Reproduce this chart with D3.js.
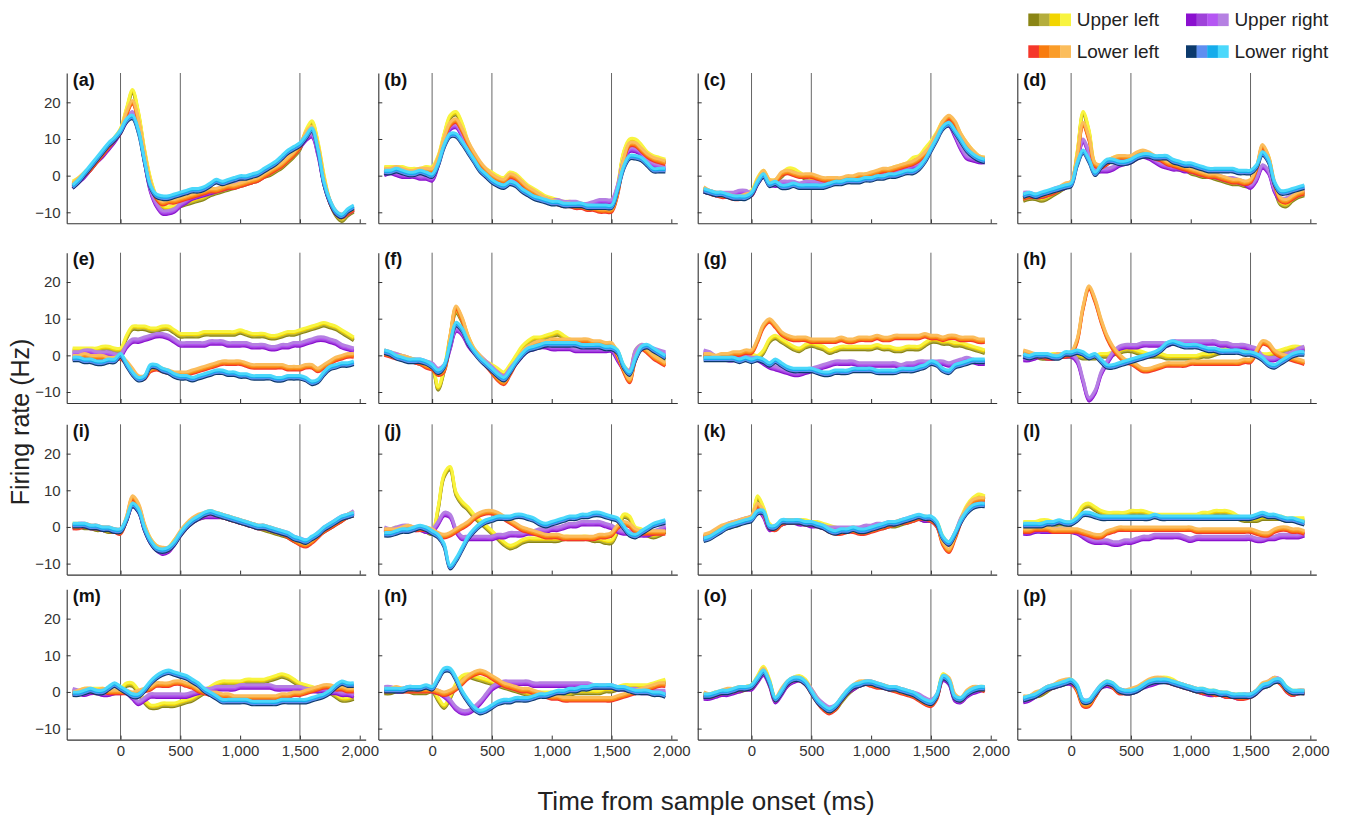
<!DOCTYPE html>
<html>
<head>
<meta charset="utf-8">
<script src="https://cdn.jsdelivr.net/npm/d3@7"></script>
<style>
  body { margin: 0; background: #fff; }
  text { font-family: "Liberation Sans", Arial, Helvetica, sans-serif; }
</style>
</head>
<body>
<script>
// sample times (ms) shared by every trace
const times = [-400,-350,-300,-250,-200,-150,-100,-50,
  0,50,100,150,200,250,300,350,
  400,450,500,550,600,650,700,750,
  800,850,900,950,1000,1050,1100,1150,
  1200,1250,1300,1350,1400,1450,1500,1550,
  1600,1650,1700,1750,1800,1850,1900,1950];

const eventTimes = [0, 500, 1500];
const groupNames = ['Upper left', 'Lower left', 'Upper right', 'Lower right'];
const groupShades = [
  ['#8a8515', '#b4ad3c', '#f2d500', '#f8f43f'],
  ['#f5372a', '#f87b0e', '#fa9c28', '#fbbd5c'],
  ['#8b10cf', '#9f42da', '#b556f3', '#b580e2'],
  ['#0c3a6c', '#5f8ef0', '#15aceb', '#4bd8fb']
];
const panelLabels = ['(a)','(b)','(c)','(d)','(e)','(f)','(g)','(h)','(i)','(j)','(k)','(l)','(m)','(n)','(o)','(p)'];

// firing rate per panel: [upper left, lower left, upper right, lower right]
const panelA = [
  [-2,-1,0.5,2,4,6,8,10, 12.5,18,23,17,7,-1,-6,-8.5, -9,-8.5,-8,-7.5,-7,-6.5,-6,-5, -4.5,-4,-3.5,-3,-2.5,-2,-1.5,-1, 0,0.5,1.5,2.5,4,5.5,7.5,12, 14.5,9,0,-7,-10.5,-12,-10.5,-9.5],
  [-2.5,-1,0.5,2,4,6,8,10, 12,17,20,15,6,-2,-6,-7.5, -7,-7,-6.5,-6,-5.5,-5,-4.5,-4, -4,-3.5,-3,-3,-2.5,-2,-1.5,-1, 0,1,2,3,4.5,6,8,11.5, 13,8,-1,-7,-10,-11,-10,-9],
  [-3,-1.5,0,2,4,5.5,7.5,9.5, 12,15,17,13,4,-4,-8,-10, -10,-9.5,-8,-7,-6,-5.5,-5,-4.5, -4,-3.5,-3,-2.5,-2,-1.5,-1,-0.5, 0.5,1.5,2.5,3.5,5,6.5,8,10, 11,6,-2,-7,-10,-11,-10,-9],
  [-3,-1.5,0.5,2.5,4.5,6.5,8.5,10, 12,15,16,12,4,-3,-5.5,-6, -6,-5.5,-5,-4.5,-4,-4,-3.5,-2.5, -1.5,-2,-1.5,-1,-0.5,-0.5,0,0.5, 1.5,2.5,3.5,5,6.5,7.5,8.5,10.5, 12.5,7,-2,-7,-10,-11,-9.5,-8.5]
];
const panelB = [
  [2,2,2,2,1.5,1.5,1.5,2, 2,5,11,16,17,14,9,5.5, 3,1.5,0.5,-0.5,-1,0.5,0,-1.5, -3,-4,-5,-6,-6.5,-7,-7.5,-7.5, -8,-8,-8.5,-8.5,-9,-9,-8.5,-3, 6,9.5,9.5,8,6,5,4.5,4],
  [1.5,1.5,2,1.5,1,1,1.5,1.5, 1.5,4.5,10,14,15,12.5,9,6, 3.5,1.5,0,-1,-1.5,0,-0.5,-2, -3.5,-4.5,-5.5,-6.5,-7,-7.5,-8,-8, -8.5,-8.5,-9,-9,-9.5,-9.5,-9.5,-5, 4,8.5,8.5,7,5.5,4.5,4,3.5],
  [0.5,1,0.5,0,0,0,-0.5,-0.5, -1,3,9,13,13.5,11,7.5,4.5, 2,0,-1,-2,-2.5,-1.5,-2,-3, -4,-5,-6,-6.5,-7,-7,-7.5,-7.5, -7.5,-8,-8,-7.5,-7,-7,-7,-3, 4,7,7,6,4,3,2.5,2],
  [1,1,1.5,1,0.5,0.5,1,0.5, 0,3,8,11,11,9,6.5,4, 1.5,0,-1.5,-2.5,-3,-2,-2.5,-4, -5,-6,-6.5,-7,-7.5,-7.5,-8,-8, -8,-8,-8.5,-8.5,-8.5,-8.5,-8.5,-4, 2,5,5,4.5,3,1.5,1.5,1.5]
];
const panelC = [
  [-4,-4.5,-5,-5,-5.5,-5.5,-5.5,-5, -4.5,-1,1,-1.5,-1.5,0,1.5,1.5, 0.5,-0.5,-1,-1,-1.5,-1.5,-1.5,-1.5, -1,-1,-0.5,0,0,0.5,1,1.5, 2,2.5,3,4.5,5,7,9,11.5, 14.5,15.5,14,11,8.5,6.5,5,4.5],
  [-3.5,-4.5,-5,-5.5,-5.5,-6,-6,-5.5, -5,-1.5,1,-1.5,-1.5,0.5,1,0.5, 0,0,0,-0.5,-1,-1,-1,-1, -0.5,-0.5,0,0,0.5,1,1.5,1.5, 2,2.5,3,3.5,4.5,6,8,11, 14.5,16,14.5,11,8.5,6.5,5,4.5],
  [-4,-4.5,-5,-5,-5,-5,-4.5,-4.5, -5,-2,0,-2,-2.5,-2,-2,-2, -2.5,-2,-2,-2,-2,-2,-1.5,-1.5, -1,-1,-1,-0.5,-0.5,0,0,0.5, 1,1.5,2,2.5,3,5,8,11, 13.5,14,11,7.5,5,4.5,4,4],
  [-4,-4.5,-5,-5,-5.5,-6,-6,-6, -5,-2,0,-2.5,-2,-3,-3,-2.5, -3,-3,-3,-3,-3,-2.5,-2,-2, -1.5,-1.5,-1.5,-1,-1,-0.5,-0.5,0, 0,0.5,1,1,2,4,7,10, 13,14,12,9.5,7,5.5,4.5,4]
];
const panelD = [
  [-6.5,-6,-6,-6.5,-6,-5,-4,-3, -2,6,17,12,3,2,3.5,4.5, 5,4.5,4,5,6,5.5,4.5,4, 3,2.5,2,2,1,0.5,0,0, -0.5,-1,-1.5,-2,-2,-2.5,-2.5,1, 7.5,5,-3,-7.5,-8,-6.5,-5.5,-5],
  [-6,-5.5,-5.5,-5.5,-5,-4.5,-3.5,-2.5, -2,5,14,10,3,2.5,3.5,4.5, 5,5,5,6,6.5,6,5,4.5, 3.5,3,2.5,2,1.5,1,0.5,0, 0,-0.5,-1,-1.5,-1.5,-2,-1.5,2, 8,5,-2,-6.5,-7,-6,-5,-4.5],
  [-5,-5,-5.5,-5.5,-5,-4,-3.5,-3, -2,4,9.5,6,1.5,1.5,1.5,2, 3,3.5,4,5,5.5,5,4,3, 2.5,2,2,1.5,1.5,1,0.5,0.5, 0,-0.5,-1,-1,-1.5,-2,-3,-1, 2.5,1,-4,-6.5,-6.5,-5.5,-4.5,-4],
  [-5.5,-5,-5.5,-5,-4.5,-4,-3.5,-3, -2.5,3,6.5,4,0.5,2.5,4,4, 3.5,3.5,4,5,5.5,5.5,5,5, 5,4,3.5,3,3,2.5,2,1.5, 1.5,1.5,1.5,1.5,1,1,1,2.5, 6,4,-2,-4.5,-4.5,-4,-3.5,-3]
];
const panelE = [
  [1.5,1.5,1.5,1.5,1.5,2,2,1.5, 1.5,5,7.5,7.5,7.5,7,7,7.5, 7.5,6.5,5.5,5.5,5.5,5.5,6,6, 6,6,6,6,6.5,6,5.5,5.5, 5.5,5,5,5.5,6,6,6.5,7, 7.5,8,8.5,8,7.5,6.5,5.5,4.5],
  [-0.5,-0.5,0,-0.5,-0.5,-0.5,-1,-1, -0.5,-2,-4,-6,-6,-4,-3.5,-4, -4.5,-5,-5,-5,-4.5,-4,-3.5,-3, -2.5,-2,-2,-2,-2,-2.5,-3,-3, -3,-3,-3,-3,-3.5,-3.5,-3.5,-3, -3,-4,-3,-2,-1,-0.5,0,0],
  [0.5,0.5,1,1,0.5,0.5,0.5,0, 0,2.5,4,4,4.5,5,5.5,5.5, 5,4,3,3,3,3,3,3.5, 3.5,3.5,3,3,3,3,2.5,2.5, 2.5,2,2,2.5,2.5,3,3,3.5, 4,4.5,4.5,4,3.5,2.5,2,1.5],
  [-1,-1,-1.5,-1.5,-2,-2,-1.5,-1.5, 0,-2.5,-5,-6.5,-6,-3,-3,-4, -4.5,-5.5,-6,-6,-6.5,-6,-5.5,-5, -4.5,-4.5,-5,-5,-5.5,-5.5,-6,-6, -6,-6,-6.5,-6.5,-6,-6,-6,-6.5, -7.5,-7,-5,-3.5,-3,-2.5,-2.5,-2]
];
const panelF = [
  [1,0.5,0,-0.5,-1,-1.5,-2,-2.5, -3,-9,-4,5,12,9.5,5,1.5, -0.5,-2,-3,-4,-5,-3,-0.5,2, 3.5,4.5,4.5,5,5.5,6,5,4, 3.5,3,3,3,3,2.5,2.5,1, -3,-4.5,1,2.5,1.5,0.5,-0.5,-1],
  [0.5,0,-0.5,-0.5,-1,-1.5,-2,-3, -3.5,-5,-4,5,13,10,5,1.5, -0.5,-2.5,-4.5,-6.5,-7.5,-5,-2,0.5, 2,3,3.5,3.5,4,4,4,4, 4,4,4,3.5,3.5,3,3,0, -4,-7,-1,2,1,-0.5,-1.5,-2.5],
  [1,0.5,0,-0.5,-1,-1.5,-1.5,-2, -2.5,-4,-3,2,7,6,3,1, -0.5,-2,-3.5,-5,-6,-4,-2,0, 1.5,2,2.5,2.5,2,2,2,2, 1.5,1.5,1.5,1.5,1.5,1.5,1.5,-1, -3.5,-4.5,1,2.5,2,1.5,1,0.5],
  [1,0.5,-0.5,-1,-1.5,-1.5,-1.5,-2, -3,-4.5,-3,3,8.5,7,3.5,1, -1,-2.5,-4,-5.5,-6.5,-4.5,-2,0, 1.5,2,2.5,3,3,3,3,3, 3,2.5,2.5,2.5,2.5,2,2,1, -3,-5,-1,2,2.5,1.5,0.5,-0.5]
];
const panelG = [
  [0,0,-0.5,-0.5,-0.5,-0.5,0,0.5, 0,-0.5,1,4,5,4,3,2, 1.5,2.5,3,2.5,2,1,1.5,2, 2,2,2,2,2,2.5,2,2, 1.5,1.5,2,2,2,3,4,4, 3.5,3.5,3,3,2.5,2,1.5,1],
  [0,0,-0.5,0,0,0.5,0.5,1, 1,4,8,9.5,8,6,5,4.5, 4.5,4.5,4,4,4,4,4,4.5, 4,4,4.5,4.5,4.5,5,4.5,4.5, 5,5,5,5,5,5.5,5,5, 4.5,5,5,4.5,4.5,4.5,4,4],
  [1,0.5,-0.5,-0.5,-1,-1,-0.5,-0.5, -1,-1,-2,-3,-3.5,-4,-4.5,-5, -5,-4.5,-4,-3.5,-3,-2.5,-2,-2, -2,-2,-2.5,-2.5,-2.5,-2.5,-2.5,-2.5, -2.5,-3,-2.5,-2.5,-2,-2,-2,-2, -2,-2.5,-2,-1.5,-1,-1.5,-2,-2],
  [-1,-1,-1,-1,-1,-1,-1.5,-1, -1.5,-1,-1.5,-2.5,-1.5,-2.5,-3.5,-4, -4,-4,-4,-4.5,-5,-5,-4.5,-4.5, -4.5,-4,-4,-4,-4,-4.5,-4.5,-4.5, -4.5,-4,-4,-4,-3.5,-3,-2,-2.5, -4,-4.5,-3,-2.5,-2,-1.5,-1.5,-1.5]
];
const panelH = [
  [0,0,0,-0.5,-0.5,0,0,0, 0,0,-0.5,-0.5,-0.5,0,0,0.5, 1,1.5,1.5,1,0.5,0,0,0, -0.5,-0.5,-0.5,-0.5,-0.5,-0.5,0,0, 0.5,1,1.5,1.5,1.5,1.5,1,0.5, 0,0,0.5,1,1.5,2,2,1.5],
  [1,0.5,0,0,-0.5,-0.5,0,0, 0.5,4,13,18.5,15,9.5,5,2, 0,-1.5,-2,-3,-4,-4,-3.5,-3, -2.5,-2.5,-2.5,-2.5,-2,-2,-2,-2, -2,-2,-2,-2,-2,-1.5,-1.5,1, 3.5,3,1,0,-0.5,-1,-1.5,-2],
  [-1,-1,-0.5,0,-0.5,-0.5,0,0, 0,-1.5,-7,-12,-10,-5,-2,0.5, 2,2.5,2.5,2.5,3,3,3,3, 3,3.5,3.5,3.5,3.5,3.5,3.5,3.5, 3.5,3,3,2.5,2.5,2.5,2,1.5, -0.5,-1,-1,-0.5,0,0.5,1.5,2],
  [0,-0.5,0,0,0,-0.5,-0.5,0.5, 0.5,1,0.5,-0.5,0,-1.5,-3,-3, -2.5,-2,-1.5,-1,-0.5,0,0.5,1.5, 3,3.5,3,2.5,2.5,2.5,2,1.5, 1.5,1,1,1,1,0.5,0.5,0, -1,-2.5,-3,-2,-1,0,0.5,0.5]
];
const panelI = [
  [0.5,0.5,0,0,-0.5,-0.5,-1,-1, -1,2,6.5,5,0,-3.5,-5.5,-6.5, -6,-4,-2,0,1.5,2.5,3,3.5, 3.5,3,2.5,2,1.5,1,0.5,0, -0.5,-1,-1.5,-2,-2.5,-3.5,-4,-4.5, -3.5,-2,-1,0,1,2,3,3.5],
  [0,0,0.5,0,0,-0.5,-0.5,-1, -1.5,2.5,8,6,0.5,-3.5,-5.5,-6, -6,-4,-1.5,0.5,2,3,3.5,4, 3.5,3,2.5,2,1.5,1,0.5,0, 0,-0.5,-1,-1.5,-2.5,-3.5,-4.5,-5, -4,-2.5,-1,0,1,2,3,3.5],
  [0,0.5,0.5,0,0,-0.5,-0.5,-1, -1,2,6,4.5,-0.5,-4,-6,-7, -6.5,-4.5,-2,0,1.5,2.5,3,3, 3,3,2.5,2,1.5,1,0.5,0, 0,-0.5,-1,-1.5,-2,-3,-3.5,-4, -3.5,-2,-0.5,0.5,1.5,2.5,3,4],
  [0.5,0.5,0.5,0,0,-0.5,-0.5,-1, -1,2,6,4.5,-0.5,-4,-6,-6.5, -6,-4.5,-2,0,1.5,2.5,3.5,4, 3.5,3,2.5,2,1.5,1,0.5,0, 0,-0.5,-1,-1.5,-2,-3,-3.5,-4, -3,-2,-0.5,0.5,1.5,2.5,3,3.5]
];
const panelJ = [
  [-1,-1,-0.5,-0.5,-0.5,-0.5,-0.5,-1, -1.5,5,14,16,9,6.5,5,3, 1.5,0,-1.5,-3,-4.5,-5.5,-5,-4, -3.5,-3.5,-3.5,-3.5,-3.5,-3.5,-3,-3, -3,-3,-3,-3.5,-3.5,-4,-4,-1, 3,2.5,-0.5,-1,-2,-2.5,-2,-1],
  [-1,-1,-1,-0.5,0,-0.5,-0.5,-0.5, -1,-2,-2.5,-2,-1,0,1,2.5, 3.5,4,4,3.5,2.5,1.5,0.5,-0.5, -1,-1.5,-2,-2.5,-2.5,-2.5,-3,-3, -3,-3,-3,-3,-2.5,-2.5,-2,0, 1,0.5,-1,-1.5,-1.5,-1.5,-1.5,-1.5],
  [-0.5,-1,-0.5,0,0,-0.5,-0.5,-1, -1,1,3.5,3,-1,-3,-3,-3, -3,-3,-3,-2.5,-2.5,-2,-2,-2, -1.5,-1.5,-1,-1,-0.5,-0.5,0,0.5, 0.5,1,1,1,1,0.5,0,-1, -1.5,-1.5,-2,-2,-2,-1.5,-1,0],
  [-2,-2,-1.5,-1,-1,-0.5,0,-0.5, -1.5,-2.5,-5,-11,-9,-6,-3,-1, 0.5,1.5,2,2.5,2.5,2.5,3,3, 2.5,2,1,0.5,1,1.5,2,2.5, 2.5,3,3,3.5,3.5,3,2.5,2, 0,-2,-2.5,-1.5,-0.5,0.5,1,1.5]
];
const panelK = [
  [-3,-2.5,-1.5,-0.5,0,0.5,1,2, 2.5,8,5,0.5,-0.5,1,1.5,1.5, 1.5,1.5,1,1,0.5,0,-0.5,-1, -1,-0.5,-1,-1,-0.5,0,0,0.5, 0.5,1,1.5,2,2.5,2,2,1, -3,-4.5,-2,2,5.5,7.5,8.5,8],
  [-2.5,-2,-1,0,0.5,1,1.5,2, 2.5,6,4,0,-0.5,1,1.5,1.5, 1.5,1,1,0.5,0,-1,-1.5,-1.5, -1,-1,-1.5,-1.5,-1,-0.5,0,0.5, 1,1.5,1.5,2,2.5,2.5,2,0.5, -4.5,-6.5,-3,1.5,5,7,7.5,7.5],
  [-3,-2.5,-1.5,-0.5,0.5,1,1.5,2, 2.5,5,3,-0.5,0,1,1.5,1.5, 1,1,0.5,0.5,0,-0.5,-0.5,-0.5, -0.5,-0.5,-0.5,0,0,0.5,0.5,1, 1,1.5,2,2.5,2.5,2,2,0.5, -3.5,-4.5,-2,2,4.5,6,6.5,6.5],
  [-3.5,-3,-2,-1,0,0.5,1,1.5, 2,4,4,0,0,1.5,1.5,1.5, 1.5,1,1,0.5,0,-1,-1.5,-1, -1,-0.5,-1,-1,-0.5,0,0.5,1, 1,1.5,2,2.5,3,2.5,2.5,1, -3,-4.5,-2,1.5,4,5.5,6,6]
];
const panelL = [
  [1,1,1,1.5,1.5,1,1,1, 1,3,5.5,6,5,4,3.5,3.5, 3.5,3.5,4,4,4,3.5,3,3, 3,3,3,3,3,3,3.5,3.5, 4,4,4,3.5,2.5,2,2,2, 2.5,2.5,2.5,2.5,2,2,2,2],
  [-1,-1,-0.5,-0.5,-0.5,-1,-1,-1, -1,-1,-1.5,-2,-2.5,-2.5,-1.5,-1, -0.5,-0.5,-0.5,-0.5,-0.5,-0.5,-0.5,-0.5, -0.5,-0.5,-0.5,-0.5,-0.5,-1,-1,-1, -1,-1,-1,-1,-1,-1,-1,-1.5, -2,-2,-1,-0.5,-0.5,-1,-1,-1.5],
  [-1.5,-1.5,-1,-1,-1,-1,-1,-1, -1,-1.5,-2.5,-3.5,-4,-4,-4,-4.5, -4.5,-4,-4,-3.5,-3,-3,-2.5,-2.5, -2.5,-2.5,-2.5,-3,-3.5,-3,-3,-3, -3,-3,-3,-3,-3,-3,-3,-3.5, -3.5,-3,-3,-2.5,-2.5,-2.5,-2.5,-2],
  [0.5,0.5,0.5,0.5,1,1,1.5,1, 1,2,3.5,3.5,3,2.5,2.5,2.5, 2.5,2.5,2.5,2.5,2.5,2.5,3,2.5, 2.5,2.5,2.5,2.5,2.5,2.5,2.5,2.5, 2.5,2.5,2.5,2.5,2.5,2.5,2.5,3, 3.5,3,3,2.5,2,2,1.5,1]
];
const panelM = [
  [0,0,0.5,0.5,0.5,0.5,0,0, 0.5,2,2,0,-2.5,-4,-4,-3.5, -3.5,-3.5,-3,-2.5,-2,-1,0,1, 2,2.5,2.5,2.5,2.5,3,3,3, 3,3.5,4,4.5,4,3,2,1.5, 1,0.5,0.5,0,-1,-2,-2,-1.5],
  [-0.5,0,0.5,0.5,0,0.5,0,0, 0,0,-0.5,0,0.5,1,2,2, 2,2.5,2.5,2,1.5,0.5,0,-0.5, -0.5,-1,-1,-1.5,-1.5,-1.5,-1.5,-1.5, -1.5,-1.5,-1.5,-1,-1,-0.5,-0.5,0, 0.5,1,1.5,1.5,1,1,0.5,0.5],
  [0.5,0,-0.5,0,0,-0.5,-0.5,0, 0,0,-1.5,-3,-2,-1,-1,-1, -1,-1,-1,-1,-0.5,0,0.5,0.5, 1,1,1,1,1.5,1.5,1.5,1.5, 1.5,1.5,1,1,1,1,1,0.5, 0.5,0.5,0.5,0,0,-0.5,-0.5,-1],
  [-0.5,-0.5,0,0.5,0,0,1,2, 1,0,-1,-1,0.5,2.5,4,5, 5.5,5,4.5,4,3,2,0.5,-0.5, -1.5,-2.5,-2.5,-2.5,-2.5,-2.5,-3,-3, -3,-3,-3,-2.5,-2.5,-2.5,-2.5,-2.5, -2,-1.5,-1,0,1.5,2.5,2,2]
];
const panelN = [
  [0,0,0.5,0.5,0.5,0,0,0, 0.5,-2,-4,-1.5,2,4,4.5,4, 3.5,3,2.5,2,1.5,1,0.5,0, -0.5,-0.5,-0.5,-0.5,-0.5,-0.5,-0.5,-0.5, 0,0,0,0,0,0.5,0.5,1, 1.5,1.5,1.5,1.5,1.5,2,2.5,3],
  [0.5,0.5,1,0.5,0.5,0.5,0.5,0.5, 0.5,0,-0.5,0,1,2.5,4,5, 5.5,5,4,3,2,1.5,1,0.5, 0.5,0,-0.5,-1,-1.5,-1.5,-2,-2, -2,-2,-2,-2,-2,-2,-2,-1.5, -1,-0.5,0,0.5,1,1.5,2,2],
  [1,1,0.5,0.5,1,1,1,1, 0.5,0,-1,-2.5,-4.5,-5.5,-5.5,-4.5, -3,-1,1,2,2.5,2.5,2.5,2.5, 2.5,2,2,2,2,2,2,2, 2,2,2,1.5,1.5,1.5,1.5,1, 1,0.5,0.5,0,0,0,0,0],
  [0.5,0.5,0.5,0.5,1,1,1,1.5, 1,3.5,6,6,3.5,0,-2.5,-4.5, -5.5,-5,-4,-3,-2.5,-2.5,-2,-2, -2,-1.5,-1,-1,-0.5,0,0,0.5, 0.5,1,1,1.5,1.5,1.5,1.5,1, 1,0.5,0,0,0,-0.5,-0.5,-1]
];
const panelO = [
  [-1,-1,-0.5,-0.5,0,0.5,0.5,1, 1.5,4,6.5,3,-2,0,2,3.5, 4,3,0.5,-2,-4,-5,-4.5,-2.5, -0.5,1,2,2.5,2.5,2,1.5,1, 1,0.5,0,-0.5,-1.5,-2.5,-3,-1, 4.5,3,-1.5,-2,-0.5,0.5,1,1],
  [-0.5,-1,-0.5,0,0.5,0.5,1,1, 1.5,3.5,6,2.5,-2,0.5,2.5,3.5, 3.5,2.5,0,-2.5,-4.5,-5.5,-4.5,-2, 0,1.5,2.5,2.5,2,1.5,1.5,1, 0.5,0,-0.5,-1,-2,-3,-3.5,-1.5, 4,3.5,-1,-2,0,1,1,0.5],
  [-1.5,-1.5,-1,-0.5,-0.5,0,0.5,1, 1,3,5,2,-2.5,-0.5,2,3, 3.5,2.5,0.5,-2,-3.5,-4.5,-4,-2, 0,1,2,2.5,2.5,2,1.5,1, 1,0.5,0,-0.5,-1,-2,-2.5,-1, 3.5,2.5,-2,-2.5,-1,0,0.5,1],
  [-1,-1,-0.5,0,0,0.5,1,1, 1.5,3.5,5.5,2.5,-2,0,2.5,3.5, 3.5,2.5,0,-2.5,-4,-5,-4,-2, 0,1.5,2,2.5,2.5,2,1.5,1, 1,0.5,0,-0.5,-1.5,-2.5,-3,-1, 4,3,-1.5,-2,-0.5,0.5,1,1]
];
const panelP = [
  [-2,-1.5,-1,-0.5,0.5,1.5,2,2.5, 3,1,-3,-3,-1,1.5,2.5,2, 0.5,0,0,0.5,1.5,2.5,3,3.5, 3.5,3,2,1.5,1,0.5,0.5,0, 0,-0.5,-0.5,-1,-1,-1,-1,0, 1.5,2,3,3,1,0,0,0],
  [-1.5,-1.5,-0.5,0,1,1.5,2.5,3, 3,0.5,-3.5,-3.5,-1,1.5,2.5,1.5, 0,0,0.5,1,2,3,3.5,3.5, 3,2.5,2,1.5,1,0.5,0,0, -0.5,-0.5,-1,-1,-1.5,-1.5,-1,0, 2,2.5,3.5,2.5,0.5,-0.5,0,0],
  [-2.5,-2,-1,0,1,1.5,2,2.5, 2.5,1,-2.5,-2.5,-0.5,1.5,2,1.5, 0.5,0,0,0.5,1.5,2,2.5,3, 3,2.5,2,1.5,1,0.5,0,-0.5, -0.5,-0.5,-1,-1,-1.5,-1,-1,0, 1.5,2.5,3.5,3,0.5,-0.5,0,0],
  [-2,-1.5,-1,0,1,1.5,2,2.5, 3,1.5,-2.5,-2.5,-0.5,1.5,2.5,2, 0.5,0,0,0.5,1.5,2.5,3,3, 3,2.5,2,1.5,1,0.5,0.5,0, 0,-0.5,-0.5,-1,-1,-1,-1,0, 1.5,2,3,3,1,0,0,0]
];

const panels = [panelA, panelB, panelC, panelD, panelE, panelF, panelG, panelH,
  panelI, panelJ, panelK, panelL, panelM, panelN, panelO, panelP];

// layout
const W = 1355, H = 819;
const colLeft = [66.7, 378.3, 697.7, 1017.3];
const rowTop = [73, 252.7, 424.3, 589.3];
const pw = 299, ph = 150.3;

const svg = d3.select('body').append('svg')
    .attr('width', W)
    .attr('height', H);

const x = d3.scaleLinear().domain([-450, 2050]).range([0, pw]);
const y = d3.scaleLinear().domain([-13, 28]).range([ph, 0]);

const line = d3.line()
    .x((d, i) => x(times[i]))
    .y(d => y(d))
    .curve(d3.curveCatmullRom.alpha(0.5));

const shadeOffset = [1.8, 0.6, -0.6, -1.8];
const drawOrder = [0, 2, 1, 3];

panels.forEach((p, k) => {
    const r = Math.floor(k / 4), c = k % 4;
    const g = svg.append('g').attr('transform', `translate(${colLeft[c]},${rowTop[r]})`);

    // event markers
    g.selectAll('line.ev').data(eventTimes).join('line')
        .attr('class', 'ev')
        .attr('x1', d => x(d)).attr('x2', d => x(d))
        .attr('y1', 0).attr('y2', ph)
        .attr('stroke', '#555').attr('stroke-width', 0.9);

    // traces
    drawOrder.forEach(gi => {
        groupShades[gi].forEach((col, si) => {
            g.append('path')
                .attr('d', line(p[gi]))
                .attr('transform', `translate(0,${shadeOffset[si]})`)
                .attr('fill', 'none')
                .attr('stroke', col)
                .attr('stroke-width', 3)
                .attr('stroke-linejoin', 'round');
        });
    });

    // axes
    const xAxis = d3.axisBottom(x)
        .tickValues([0, 500, 1000, 1500, 2000])
        .tickSizeInner(-4).tickSizeOuter(0).tickPadding(6)
        .tickFormat(r === 3 ? d3.format(',') : '');
    const yAxis = d3.axisLeft(y)
        .tickValues([-10, 0, 10, 20])
        .tickSizeInner(-4).tickSizeOuter(0).tickPadding(6)
        .tickFormat(c === 0 ? d3.format('d') : '');

    const gx = g.append('g').attr('transform', `translate(0,${ph})`).call(xAxis);
    const gy = g.append('g').call(yAxis);
    [gx, gy].forEach(a => {
        a.select('.domain').attr('stroke', '#333').attr('stroke-width', 1.1);
        a.selectAll('.tick line').attr('stroke', '#333');
        a.selectAll('.tick text').attr('fill', '#333')
            .style('font-size', '15px')
            .style('font-family', '"Liberation Sans", Arial, sans-serif');
    });

    g.append('text')
        .attr('x', 6).attr('y', 12.5)
        .attr('font-weight', 'bold')
        .attr('font-size', 18)
        .attr('fill', '#111')
        .text(panelLabels[k]);
});

// axis titles
svg.append('text')
    .attr('transform', 'translate(29,422) rotate(-90)')
    .attr('text-anchor', 'middle')
    .attr('font-size', 25)
    .attr('fill', '#222')
    .text('Firing rate (Hz)');

svg.append('text')
    .attr('x', 706).attr('y', 810)
    .attr('text-anchor', 'middle')
    .attr('font-size', 26)
    .attr('fill', '#222')
    .text('Time from sample onset (ms)');

// legend
const legendPos = [[1028.3, 13.5], [1028.3, 45.3], [1186, 13.5], [1186, 45.3]];
const sw = 10.6, sh = 12.6;
groupNames.forEach((name, gi) => {
    const [lx, ly] = legendPos[gi];
    const lg = svg.append('g').attr('transform', `translate(${lx},${ly})`);
    lg.selectAll('rect').data(groupShades[gi]).join('rect')
        .attr('x', (d, i) => i * sw).attr('y', 0)
        .attr('width', sw + 0.3).attr('height', sh)
        .attr('fill', d => d);
    lg.append('text')
        .attr('x', 4 * sw + 6).attr('y', sh)
        .attr('font-size', 19)
        .attr('fill', '#222')
        .text(name);
});
</script>
</body>
</html>
